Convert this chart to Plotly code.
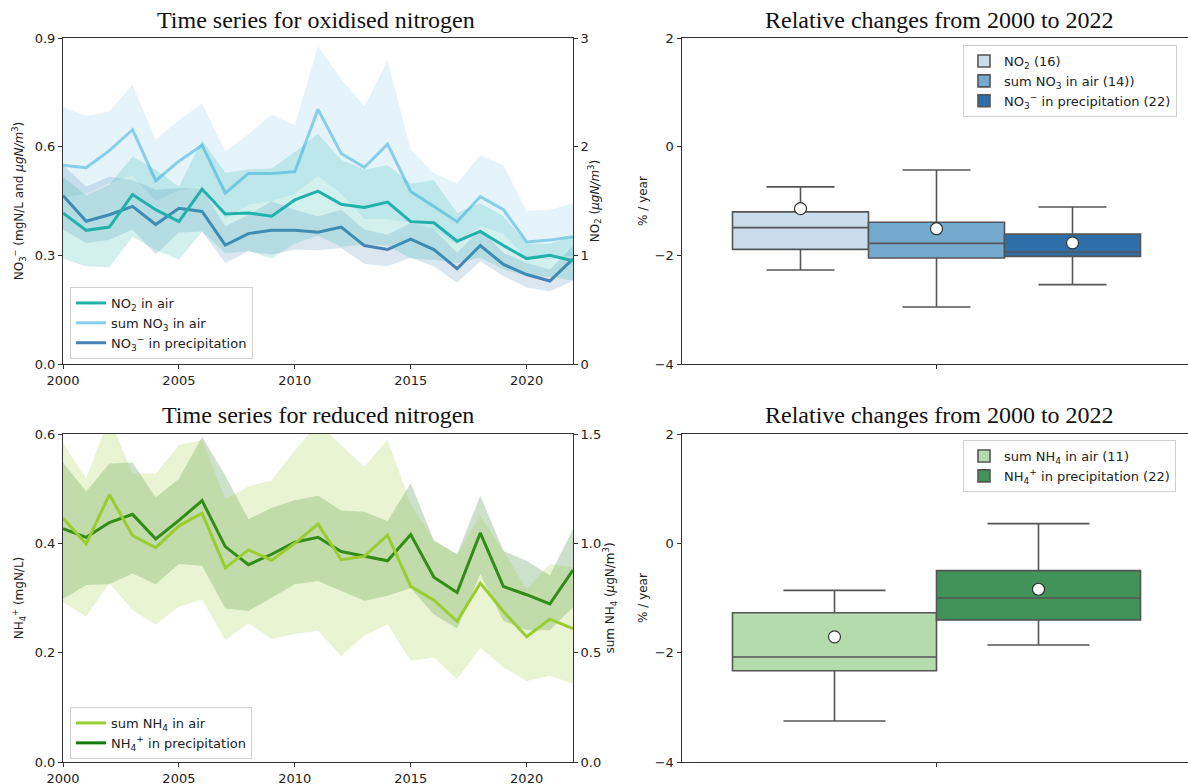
import plotly.graph_objects as go

years = list(range(2000, 2023))

# ---- Oxidised nitrogen ----
# NO2 in air (right axis, ugN/m3)
no2_mean = [1.39, 1.23, 1.26, 1.56, 1.42, 1.31, 1.61, 1.38, 1.39, 1.36, 1.51, 1.59, 1.47, 1.44, 1.49, 1.31, 1.30, 1.13, 1.22, 1.09, 0.97, 1.00, 0.95]
no2_upper = [1.72, 1.55, 1.65, 1.91, 1.79, 1.63, 2.06, 1.76, 1.79, 1.80, 1.95, 2.12, 1.88, 1.79, 1.83, 1.66, 1.69, 1.39, 1.48, 1.36, 1.11, 1.11, 1.17]
no2_lower = [0.97, 0.90, 0.89, 1.17, 1.05, 0.96, 1.22, 1.02, 1.04, 0.97, 1.11, 1.18, 1.08, 1.10, 1.09, 0.97, 0.96, 0.93, 0.98, 0.87, 0.81, 0.80, 0.77]
# sum NO3 in air (left axis)
sno3_mean = [0.549, 0.542, 0.589, 0.647, 0.506, 0.560, 0.604, 0.472, 0.526, 0.526, 0.531, 0.703, 0.581, 0.543, 0.607, 0.476, 0.435, 0.393, 0.462, 0.426, 0.337, 0.342, 0.351]
sno3_upper = [0.710, 0.684, 0.698, 0.771, 0.620, 0.673, 0.720, 0.586, 0.634, 0.689, 0.659, 0.877, 0.787, 0.711, 0.838, 0.592, 0.526, 0.499, 0.577, 0.549, 0.423, 0.426, 0.444]
sno3_lower = [0.460, 0.470, 0.500, 0.520, 0.450, 0.480, 0.490, 0.400, 0.440, 0.450, 0.470, 0.520, 0.470, 0.400, 0.400, 0.390, 0.370, 0.330, 0.380, 0.360, 0.290, 0.290, 0.300]
# NO3- in precipitation (left axis, mgN/L)
no3p_mean = [0.465, 0.394, 0.412, 0.435, 0.385, 0.430, 0.421, 0.328, 0.360, 0.369, 0.369, 0.364, 0.378, 0.327, 0.316, 0.345, 0.316, 0.263, 0.327, 0.275, 0.247, 0.229, 0.290]
no3p_upper = [0.549, 0.490, 0.517, 0.508, 0.481, 0.485, 0.485, 0.380, 0.412, 0.449, 0.426, 0.407, 0.426, 0.371, 0.357, 0.389, 0.371, 0.307, 0.371, 0.307, 0.279, 0.261, 0.325]
no3p_lower = [0.371, 0.334, 0.343, 0.371, 0.302, 0.363, 0.366, 0.279, 0.311, 0.302, 0.316, 0.314, 0.320, 0.277, 0.270, 0.293, 0.270, 0.224, 0.284, 0.243, 0.211, 0.201, 0.229]

# ---- Reduced nitrogen ----
# sum NH4 in air (right axis, ugN/m3)
snh4_mean = [1.115, 0.998, 1.223, 1.035, 0.980, 1.080, 1.138, 0.888, 0.970, 0.923, 1.000, 1.088, 0.925, 0.940, 1.038, 0.803, 0.740, 0.643, 0.818, 0.688, 0.573, 0.653, 0.610]
snh4_upper = [1.458, 1.298, 1.575, 1.318, 1.318, 1.450, 1.473, 1.203, 1.260, 1.288, 1.425, 1.550, 1.450, 1.350, 1.475, 1.180, 1.013, 0.950, 1.125, 0.965, 0.790, 0.905, 0.890]
snh4_lower = [0.730, 0.665, 0.818, 0.695, 0.628, 0.710, 0.743, 0.558, 0.635, 0.563, 0.585, 0.600, 0.485, 0.578, 0.630, 0.463, 0.478, 0.378, 0.523, 0.433, 0.370, 0.395, 0.358]
# NH4+ in precipitation (left axis, mgN/L)
nh4p_mean = [0.427, 0.411, 0.438, 0.453, 0.408, 0.442, 0.478, 0.394, 0.361, 0.380, 0.402, 0.411, 0.385, 0.377, 0.368, 0.416, 0.338, 0.310, 0.419, 0.321, 0.306, 0.289, 0.351]
nh4p_upper = [0.548, 0.495, 0.546, 0.548, 0.484, 0.518, 0.595, 0.524, 0.444, 0.465, 0.479, 0.487, 0.460, 0.458, 0.441, 0.510, 0.405, 0.380, 0.487, 0.386, 0.368, 0.341, 0.426]
nh4p_lower = [0.298, 0.324, 0.325, 0.345, 0.325, 0.362, 0.359, 0.281, 0.276, 0.301, 0.325, 0.331, 0.313, 0.295, 0.304, 0.318, 0.270, 0.244, 0.344, 0.258, 0.241, 0.241, 0.283]

# ---- Relative change boxes (% / year) ----
ox_names = ["NO<sub>2</sub> (16)", "sum NO<sub>3</sub> in air (14))", "NO<sub>3</sub><sup>−</sup> in precipitation (22)"]
ox_q1 = [-1.89, -2.05, -2.02]
ox_med = [-1.49, -1.78, -1.94]
ox_q3 = [-1.20, -1.39, -1.61]
ox_lo = [-2.27, -2.95, -2.54]
ox_hi = [-0.74, -0.43, -1.11]
ox_mean = [-1.14, -1.51, -1.77]
ox_colors = ["#cbdcec", "#75aacf", "#2f6fa9"]

red_names = ["sum NH<sub>4</sub> in air (11)", "NH<sub>4</sub><sup>+</sup> in precipitation (22)"]
red_q1 = [-2.33, -1.40]
red_med = [-2.08, -1.00]
red_q3 = [-1.27, -0.50]
red_lo = [-3.25, -1.86]
red_hi = [-0.86, 0.36]
red_mean = [-1.71, -0.84]
red_colors = ["#b3dbac", "#41935a"]

W, H = 1188, 784
def px_x(a, b):
    return [a / W, b / W]
def px_y(top, bottom):
    return [1 - bottom / H, 1 - top / H]

fig = go.Figure()

def band(x, lo, hi, color, xa, ya):
    fig.add_trace(go.Scatter(x=x + x[::-1], y=hi + lo[::-1], fill="toself", fillcolor=color,
                             line=dict(width=0), mode="lines", hoverinfo="skip",
                             showlegend=False, xaxis=xa, yaxis=ya))

def line(x, y, color, name, xa, ya, leg):
    fig.add_trace(go.Scatter(x=x, y=y, mode="lines", line=dict(color=color, width=3),
                             name=name, xaxis=xa, yaxis=ya, legend=leg))

TEAL = "#20b2aa"; SKY = "#87ceeb"; STEEL = "#4682b4"
YG = "#9acd32"; DG = "#157a10"

# top-left
band(years, sno3_lower, sno3_upper, "rgba(135,206,235,0.22)", "x", "y")
band(years, no3p_lower, no3p_upper, "rgba(70,130,180,0.2)", "x", "y")
band(years, no2_lower, no2_upper, "rgba(32,178,170,0.2)", "x", "y2")
line(years, no2_mean, TEAL, "NO<sub>2</sub> in air", "x", "y2", "legend")
line(years, sno3_mean, SKY, "sum NO<sub>3</sub> in air", "x", "y", "legend")
line(years, no3p_mean, STEEL, "NO<sub>3</sub><sup>−</sup> in precipitation", "x", "y", "legend")

# bottom-left
band(years, nh4p_lower, nh4p_upper, "rgba(0,100,0,0.2)", "x2", "y3")
band(years, snh4_lower, snh4_upper, "rgba(154,205,50,0.22)", "x2", "y4")
line(years, snh4_mean, YG, "sum NH<sub>4</sub> in air", "x2", "y4", "legend2")
line(years, nh4p_mean, DG, "NH<sub>4</sub><sup>+</sup> in precipitation", "x2", "y3", "legend2")

def boxes(names, q1, med, q3, lo, hi, mean, colors, xa, ya, leg):
    n = len(names)
    w = 0.8 / n
    for i in range(n):
        xc = -0.4 + w * (i + 0.5)
        fig.add_trace(go.Box(x=[xc], q1=[q1[i]], median=[med[i]], q3=[q3[i]],
                             lowerfence=[lo[i]], upperfence=[hi[i]], width=w,
                             fillcolor=colors[i], line=dict(color="#555555", width=1.6),
                             whiskerwidth=0.5, name=names[i], xaxis=xa, yaxis=ya,
                             legend=leg, boxpoints=False, hoverinfo="skip"))
    for i in range(n):
        xc = -0.4 + w * (i + 0.5)
        fig.add_trace(go.Scatter(x=[xc], y=[mean[i]], mode="markers",
                                 marker=dict(color="white", size=12, line=dict(color="#333333", width=1.2)),
                                 showlegend=False, xaxis=xa, yaxis=ya, hoverinfo="skip"))

boxes(ox_names, ox_q1, ox_med, ox_q3, ox_lo, ox_hi, ox_mean, ox_colors, "x3", "y5", "legend3")
boxes(red_names, red_q1, red_med, red_q3, red_lo, red_hi, red_mean, red_colors, "x4", "y6", "legend4")

TICKF = dict(family="DejaVu Sans", size=13, color="#222222")
TITF = dict(family="DejaVu Sans", size=12, color="#222222")
AX = dict(showgrid=False, zeroline=False, showline=True, linecolor="#333333", linewidth=1,
          ticks="outside", ticklen=4, tickcolor="#333333", tickfont=TICKF, automargin=False)

dom_tl_x = px_x(63, 573); dom_top_y = px_y(38, 364)
dom_bot_y = px_y(434, 762)
dom_r_x = px_x(681.5, 1188)
rmax = -0.5 + (1188 - 681.5) / 510.0

fig.update_layout(
    width=W, height=H, margin=dict(l=0, r=0, t=0, b=0, autoexpand=False),
    plot_bgcolor="white", paper_bgcolor="white", showlegend=True,
    xaxis=dict(AX, domain=dom_tl_x, range=[2000, 2022], tickvals=[2000, 2005, 2010, 2015, 2020],
               anchor="y", mirror=True),
    yaxis=dict(AX, domain=dom_top_y, range=[0, 0.9], tickvals=[0, 0.3, 0.6, 0.9],
               ticktext=["0.0", "0.3", "0.6", "0.9"], anchor="x",
               title=dict(text="NO<sub>3</sub><sup>−</sup> (mgN/L and <i>μgN/m</i><sup>3</sup>)", font=TITF, standoff=8)),
    yaxis2=dict(AX, range=[0, 3], tickvals=[0, 1, 2, 3], overlaying="y", side="right", anchor="x",
                title=dict(text="NO<sub>2</sub> (<i>μgN/m</i><sup>3</sup>)", font=TITF, standoff=2)),
    xaxis2=dict(AX, domain=dom_tl_x, range=[2000, 2022], tickvals=[2000, 2005, 2010, 2015, 2020],
                anchor="y3", mirror=True),
    yaxis3=dict(AX, domain=dom_bot_y, range=[0, 0.6], tickvals=[0, 0.2, 0.4, 0.6],
                ticktext=["0.0", "0.2", "0.4", "0.6"], anchor="x2",
                title=dict(text="NH<sub>4</sub><sup>+</sup> (mgN/L)", font=TITF, standoff=8)),
    yaxis4=dict(AX, range=[0, 1.5], tickvals=[0, 0.5, 1.0, 1.5], ticktext=["0.0", "0.5", "1.0", "1.5"],
                overlaying="y3", side="right", anchor="x2",
                title=dict(text="sum NH<sub>4</sub> (<i>μ</i>gN/m<sup>3</sup>)", font=TITF, standoff=2)),
    xaxis3=dict(AX, domain=dom_r_x, range=[-0.5, rmax], tickvals=[0], ticktext=[""], anchor="y5", mirror=True),
    yaxis5=dict(AX, domain=dom_top_y, range=[-4, 2], tickvals=[-4, -2, 0, 2],
                ticktext=["−4", "−2", "0", "2"], anchor="x3",
                title=dict(text="% / year", font=TITF, standoff=4)),
    xaxis4=dict(AX, domain=dom_r_x, range=[-0.5, rmax], tickvals=[0], ticktext=[""], anchor="y6", mirror=True),
    yaxis6=dict(AX, domain=dom_bot_y, range=[-4, 2], tickvals=[-4, -2, 0, 2],
                ticktext=["−4", "−2", "0", "2"], anchor="x4",
                title=dict(text="% / year", font=TITF, standoff=4)),
)

LEGF = dict(family="DejaVu Sans", size=13, color="#222222")
LEGS = dict(bgcolor="rgba(255,255,255,0.85)", bordercolor="#d0d0d0", borderwidth=1, font=LEGF,
            tracegroupgap=0, itemwidth=30)
fig.update_layout(
    legend=dict(LEGS, x=70 / W, y=1 - 287 / H, xanchor="left", yanchor="top"),
    legend2=dict(LEGS, x=70 / W, y=1 - 707 / H, xanchor="left", yanchor="top"),
    legend3=dict(LEGS, x=963 / W, y=1 - 45 / H, xanchor="left", yanchor="top"),
    legend4=dict(LEGS, x=963 / W, y=1 - 440 / H, xanchor="left", yanchor="top"),
)

TF = dict(family="Liberation Serif", size=24, color="#111111")
for txt, cx, cy in [("Time series for oxidised nitrogen", 316, 20),
                    ("Relative changes from 2000 to 2022", 939, 20),
                    ("Time series for reduced nitrogen", 318, 415),
                    ("Relative changes from 2000 to 2022", 939, 415)]:
    fig.add_annotation(text=txt, x=cx / W, y=1 - cy / H, xref="paper", yref="paper",
                       showarrow=False, font=TF, xanchor="center", yanchor="middle")

fig.write_html("out.html", config={"displayModeBar": False},
               post_script="document.body.style.margin='0';document.body.style.padding='0';")
